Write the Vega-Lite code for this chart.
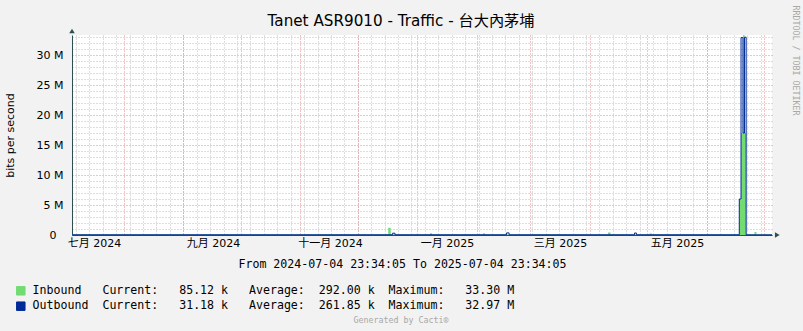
{
  "$schema": "https://vega.github.io/schema/vega-lite/v6.json",
  "width": 700,
  "height": 200,
  "autosize": {"type": "none"},
  "padding": {"left": 72, "top": 35, "right": 31, "bottom": 96},
  "background": "#F2F2F2",
  "title": {
    "text": "Tanet ASR9010 - Traffic - 台大內茅埔",
    "font": "DejaVu Sans, Noto Sans CJK TC",
    "fontSize": 15.2,
    "fontWeight": "normal",
    "color": "#000000",
    "anchor": "middle",
    "baseline": "alphabetic",
    "dx": -21,
    "offset": -36.3
  },
  "datasets": {
    "traffic": [
      {"t": "2024-07-04T23:34:05", "series": "Inbound", "bps": 100000},
      {"t": "2024-12-16T21:00:00", "series": "Inbound", "bps": 1200000},
      {"t": "2024-12-18T04:00:00", "series": "Inbound", "bps": 100000},
      {"t": "2025-01-07T16:00:00", "series": "Inbound", "bps": 300000},
      {"t": "2025-01-08T16:00:00", "series": "Inbound", "bps": 100000},
      {"t": "2025-02-04T07:00:00", "series": "Inbound", "bps": 300000},
      {"t": "2025-02-05T07:00:00", "series": "Inbound", "bps": 100000},
      {"t": "2025-04-10T11:30:00", "series": "Inbound", "bps": 420000},
      {"t": "2025-04-11T19:00:00", "series": "Inbound", "bps": 100000},
      {"t": "2025-05-02T02:00:00", "series": "Inbound", "bps": 260000},
      {"t": "2025-05-03T09:00:00", "series": "Inbound", "bps": 100000},
      {"t": "2025-06-17T22:10:00", "series": "Inbound", "bps": 6000000},
      {"t": "2025-06-18T20:00:00", "series": "Inbound", "bps": 17000000},
      {"t": "2025-06-19T20:00:00", "series": "Inbound", "bps": 33300000},
      {"t": "2025-06-20T16:00:00", "series": "Inbound", "bps": 17000000},
      {"t": "2025-06-21T12:00:00", "series": "Inbound", "bps": 100000},
      {"t": "2025-06-25T21:00:00", "series": "Inbound", "bps": 520000},
      {"t": "2025-06-26T21:00:00", "series": "Inbound", "bps": 85120},
      {"t": "2025-07-04T23:34:05", "series": "Inbound", "bps": 85120},
      {"t": "2024-07-04T23:34:05", "series": "Outbound", "bps": 40000},
      {"t": "2024-12-19T04:00:00", "series": "Outbound", "bps": 300000},
      {"t": "2024-12-20T09:00:00", "series": "Outbound", "bps": 40000},
      {"t": "2025-02-16T14:00:00", "series": "Outbound", "bps": 350000},
      {"t": "2025-02-17T21:00:00", "series": "Outbound", "bps": 40000},
      {"t": "2025-04-24T07:00:00", "series": "Outbound", "bps": 330000},
      {"t": "2025-04-25T07:00:00", "series": "Outbound", "bps": 40000},
      {"t": "2025-06-17T22:10:00", "series": "Outbound", "bps": 6000000},
      {"t": "2025-06-18T20:00:00", "series": "Outbound", "bps": 32900000},
      {"t": "2025-06-19T20:00:00", "series": "Outbound", "bps": 17000000},
      {"t": "2025-06-20T16:00:00", "series": "Outbound", "bps": 32970000},
      {"t": "2025-06-21T12:00:00", "series": "Outbound", "bps": 31180},
      {"t": "2025-07-04T23:34:05", "series": "Outbound", "bps": 31180}
    ]
  },
  "data": {"name": "traffic"},
  "layer": [
    {
      "transform": [{"filter": "datum.series === 'Inbound'"}],
      "mark": {"type": "area", "interpolate": "step-after", "opacity": 1},
      "encoding": {
        "x": {
          "field": "t",
          "type": "temporal",
          "scale": {"domain": [
            {"year": 2024, "month": 7, "date": 4, "hours": 23, "minutes": 34, "seconds": 5},
            {"year": 2025, "month": 7, "date": 4, "hours": 23, "minutes": 34, "seconds": 5}
          ], "nice": false},
          "axis": {
            "orient": "bottom",
            "tickCount": {"interval": "week", "step": 1},
            "grid": true,
            "gridColor": "#BDBDBD",
            "gridDash": [1, 2],
            "labels": false,
            "ticks": false,
            "domain": false,
            "title": null
          }
        },
        "y": {
          "field": "bps",
          "type": "quantitative",
          "stack": null,
          "scale": {"domain": [0, 33333333], "nice": false, "zero": false},
          "axis": {
            "orient": "left",
            "values": [1000000, 2000000, 3000000, 4000000, 6000000, 7000000, 8000000, 9000000, 11000000, 12000000, 13000000, 14000000, 16000000, 17000000, 18000000, 19000000, 21000000, 22000000, 23000000, 24000000, 26000000, 27000000, 28000000, 29000000, 31000000, 32000000, 33000000],
            "grid": true,
            "gridColor": "#BDBDBD",
            "gridDash": [1, 2],
            "labels": false,
            "ticks": false,
            "domain": false,
            "title": null
          }
        },
        "color": {
          "field": "series",
          "type": "nominal",
          "scale": {"domain": ["Inbound", "Outbound"], "range": ["#72DC72", "#002A97"]},
          "legend": {
            "orient": "none",
            "legendX": -57,
            "legendY": 250,
            "direction": "vertical",
            "padding": 0,
            "title": "Generated by Cacti®",
            "titleOrient": "bottom",
            "titleAnchor": "middle",
            "titleFont": "DejaVu Sans Mono",
            "titleFontSize": 8.3,
            "titleFontWeight": "normal",
            "titleColor": "#A8A8A8",
            "titlePadding": 4,
            "symbolType": "square",
            "symbolSize": 72,
            "symbolStrokeColor": "#1A1A1A",
            "symbolStrokeWidth": 1,
            "symbolOpacity": 1,
            "labelFont": "DejaVu Sans Mono",
            "labelFontSize": 11.6,
            "labelColor": "#000000",
            "labelLimit": 0,
            "labelOffset": 6,
            "rowPadding": 1.4,
            "labelExpr": "pad(datum.label === 'Inbound' ? 'Inbound\u00a0\u00a0\u00a0Current:\u00a0\u00a0\u00a085.12\u00a0k\u00a0\u00a0\u00a0Average:\u00a0\u00a0292.00\u00a0k\u00a0\u00a0Maximum:\u00a0\u00a0\u00a033.30\u00a0M' : 'Outbound\u00a0\u00a0Current:\u00a0\u00a0\u00a031.18\u00a0k\u00a0\u00a0\u00a0Average:\u00a0\u00a0261.85\u00a0k\u00a0\u00a0Maximum:\u00a0\u00a0\u00a032.97\u00a0M', 108, '\u00a0') + '\u200b'"
          }
        }
      }
    },
    {
      "transform": [{"filter": "datum.series === 'Outbound'"}],
      "mark": {"type": "line", "interpolate": "step-after", "strokeWidth": 1},
      "encoding": {
        "x": {
          "field": "t",
          "type": "temporal",
          "scale": {"domain": [
            {"year": 2024, "month": 7, "date": 4, "hours": 23, "minutes": 34, "seconds": 5},
            {"year": 2025, "month": 7, "date": 4, "hours": 23, "minutes": 34, "seconds": 5}
          ], "nice": false},
          "axis": {
            "orient": "bottom",
            "tickCount": {"interval": "month", "step": 1},
            "grid": true,
            "gridColor": "#E08A8A",
            "gridDash": [1, 2],
            "labels": false,
            "ticks": false,
            "domain": true,
            "domainColor": "#2E4F4F",
            "title": "From 2024-07-04 23:34:05 To 2025-07-04 23:34:05",
            "titleFont": "DejaVu Sans Mono",
            "titleFontSize": 11.6,
            "titleFontWeight": "normal",
            "titleColor": "#000000",
            "titleX": 330,
            "titleY": 29,
            "titleAlign": "center",
            "titleBaseline": "middle"
          }
        },
        "y": {
          "field": "bps",
          "type": "quantitative",
          "scale": {"domain": [0, 33333333], "nice": false, "zero": false},
          "axis": {
            "orient": "left",
            "values": [0, 5000000, 10000000, 15000000, 20000000, 25000000, 30000000],
            "grid": true,
            "gridColor": "#E08A8A",
            "gridDash": [1, 2],
            "ticks": false,
            "domain": true,
            "domainColor": "#2E4F4F",
            "labelExpr": "datum.value == 0 ? '0\u00a0\u00a0\u200b' : format(datum.value / 1000000, 'd') + ' M'",
            "labelFont": "DejaVu Sans",
            "labelFontSize": 11,
            "labelColor": "#000000",
            "labelPadding": 9,
            "title": "bits per second",
            "titleFont": "DejaVu Sans",
            "titleFontSize": 11,
            "titleFontWeight": "normal",
            "titleColor": "#000000",
            "titleAngle": -90,
            "titleX": -62,
            "titleY": 100,
            "titleAlign": "center",
            "titleBaseline": "middle"
          }
        },
        "color": {
          "field": "series",
          "type": "nominal",
          "scale": {"domain": ["Inbound", "Outbound"], "range": ["#72DC72", "#002A97"]},
          "legend": null
        }
      }
    },
    {
      "data": {"values": [{}]},
      "mark": {"type": "point", "shape": "triangle-right", "filled": true, "size": 30, "color": "#2E4F4F", "opacity": 1},
      "encoding": {
        "x": {
          "datum": {"year": 2025, "month": 7, "date": 7, "hours": 18},
          "type": "temporal",
          "scale": {"domain": [
            {"year": 2024, "month": 7, "date": 4, "hours": 23, "minutes": 34, "seconds": 5},
            {"year": 2025, "month": 7, "date": 4, "hours": 23, "minutes": 34, "seconds": 5}
          ], "nice": false},
          "axis": {
            "orient": "bottom",
            "values": [
              {"year": 2024, "month": 7, "date": 16, "hours": 12},
              {"year": 2024, "month": 9, "date": 16, "hours": 12},
              {"year": 2024, "month": 11, "date": 16, "hours": 12},
              {"year": 2025, "month": 1, "date": 16, "hours": 12},
              {"year": 2025, "month": 3, "date": 16, "hours": 12},
              {"year": 2025, "month": 5, "date": 16, "hours": 12}
            ],
            "grid": false,
            "ticks": false,
            "domain": false,
            "labelFlush": false,
            "labelOverlap": false,
            "labelExpr": "['一月','二月','三月','四月','五月','六月','七月','八月','九月','十月','十一月','十二月'][month(datum.value)] + ' ' + year(datum.value)",
            "labelFont": "DejaVu Sans, Noto Sans CJK TC",
            "labelFontSize": 11,
            "labelColor": "#000000",
            "labelPadding": 2,
            "title": null
          }
        },
        "y": {
          "datum": 0,
          "type": "quantitative",
          "scale": {"domain": [0, 33333333], "nice": false, "zero": false},
          "axis": {
            "orient": "right",
            "labels": false,
            "ticks": false,
            "domain": false,
            "grid": false,
            "title": "RRDTOOL / TOBI OETIKER",
            "titleFont": "DejaVu Sans Mono",
            "titleFontSize": 8.3,
            "titleFontWeight": "normal",
            "titleColor": "#A8A8A8",
            "titleAngle": 90,
            "titleX": 22,
            "titleY": -30,
            "titleAlign": "left",
            "titleBaseline": "middle"
          }
        }
      }
    },
    {
      "data": {"values": [{}]},
      "mark": {"type": "point", "shape": "triangle-up", "filled": true, "size": 30, "color": "#2E4F4F", "opacity": 1},
      "encoding": {
        "x": {
          "datum": {"year": 2024, "month": 7, "date": 4, "hours": 23, "minutes": 34, "seconds": 5},
          "type": "temporal",
          "scale": {"domain": [
            {"year": 2024, "month": 7, "date": 4, "hours": 23, "minutes": 34, "seconds": 5},
            {"year": 2025, "month": 7, "date": 4, "hours": 23, "minutes": 34, "seconds": 5}
          ], "nice": false},
          "axis": null
        },
        "y": {
          "datum": 34000000,
          "type": "quantitative",
          "scale": {"domain": [0, 33333333], "nice": false, "zero": false},
          "axis": null
        }
      }
    }
  ],
  "resolve": {"axis": {"x": "independent", "y": "independent"}},
  "config": {
    "font": "DejaVu Sans",
    "view": {"fill": "#FFFFFF", "stroke": null}
  }
}
